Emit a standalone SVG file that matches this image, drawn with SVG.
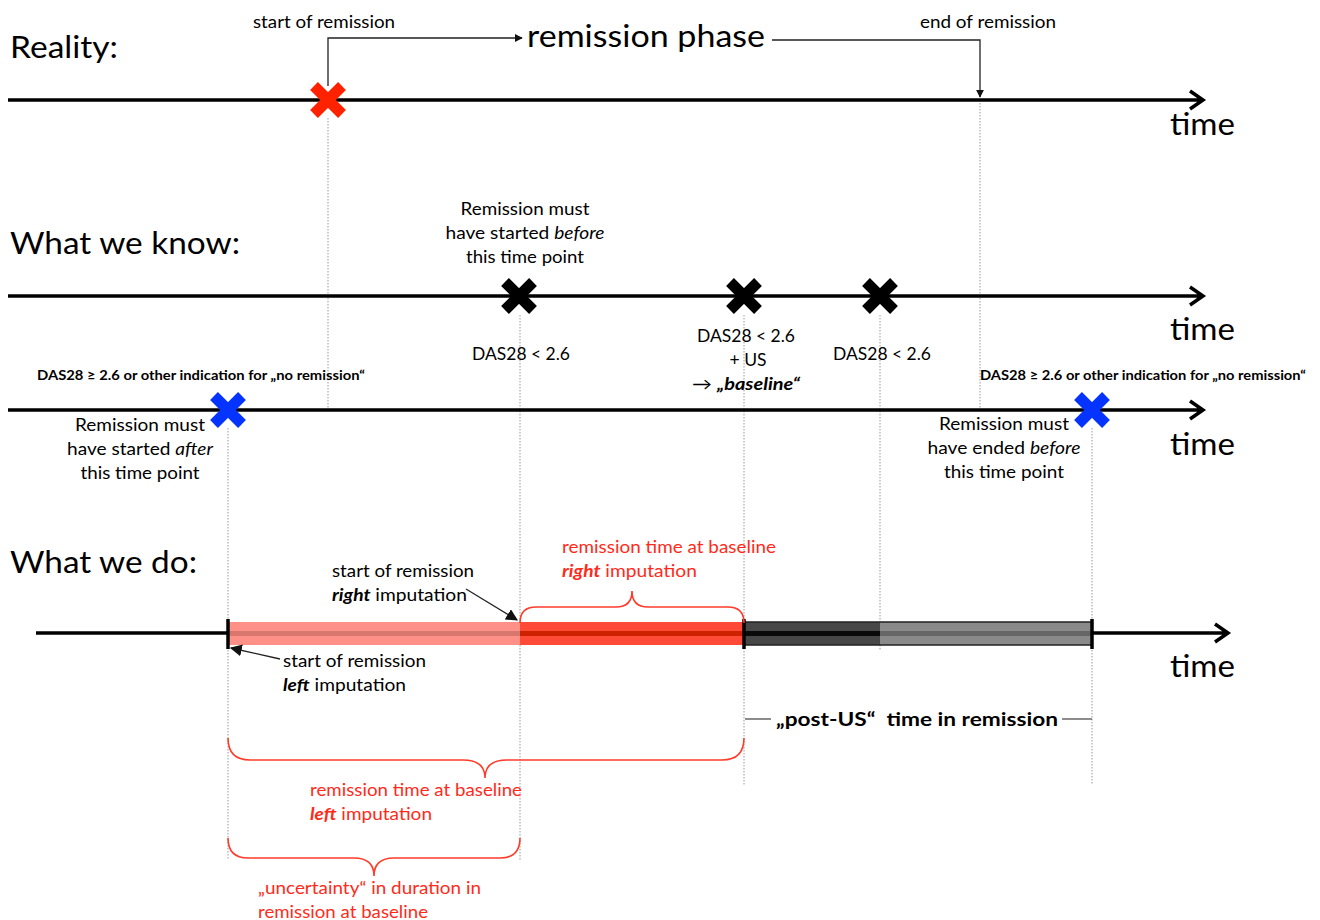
<svg xmlns="http://www.w3.org/2000/svg" width="1320" height="920" viewBox="0 0 1320 920">
<style>
.t{font-family:Lato,"Open Sans","Liberation Sans",sans-serif;fill:#000}
.big{font-size:31px}
.med{font-size:17px}
.sm{font-size:13px;font-weight:bold}
.red{fill:#ff2a1a}
.bi{font-weight:bold;font-style:italic}
.it{font-style:italic}
.tl{stroke:#000;stroke-width:3.5;fill:none}
.thin{stroke:#222;stroke-width:1.3;fill:none}
.dot{stroke:#9a9a9a;stroke-width:1;stroke-dasharray:1.5 1.5;fill:none}
.br{stroke:#ff3b2a;stroke-width:1.6;fill:none}
.tick{stroke:#000;stroke-width:3.5}
</style>
<defs>
<path id="xmark" d="M-14,-14 L14,14 M14,-14 L-14,14" stroke-width="11" fill="none"/>
<marker id="ah" viewBox="0 0 10 10" refX="9" refY="5" markerWidth="8" markerHeight="8" orient="auto" markerUnits="userSpaceOnUse">
<path d="M0,0 L10,5 L0,10 z" fill="#111"/>
</marker>
<marker id="ah2" viewBox="0 0 10 10" refX="9" refY="5" markerWidth="12" markerHeight="12" orient="auto" markerUnits="userSpaceOnUse">
<path d="M0,0 L10,5 L0,10 z" fill="#111"/>
</marker>
</defs>

<g id="guides">
<line class="dot" x1="328" y1="118" x2="328" y2="410"/>
<line class="dot" x1="980" y1="100" x2="980" y2="410"/>
<line class="dot" x1="520" y1="315" x2="520" y2="860"/>
<line class="dot" x1="744" y1="315" x2="744" y2="785"/>
<line class="dot" x1="880" y1="315" x2="880" y2="650"/>
<line class="dot" x1="228" y1="428" x2="228" y2="860"/>
<line class="dot" x1="1092" y1="428" x2="1092" y2="785"/>
</g>

<g id="timelines">
<path class="tl" d="M8,100 H1203 M1190,91 L1203,100 L1190,109"/>
<path class="tl" d="M8,296 H1203 M1190,287 L1203,296 L1190,305"/>
<path class="tl" d="M8,410 H1203 M1190,401 L1203,410 L1190,419"/>
<path class="tl" d="M36,633 H1228 M1215,624 L1228,633 L1215,642"/>
</g>

<g id="bar">
<rect x="228" y="622" width="292" height="23" fill="#ff9088"/>
<rect x="228" y="631" width="292" height="5" fill="#d8776d"/>
<rect x="520" y="622" width="224" height="23" fill="#ff4a38"/>
<rect x="520" y="631" width="224" height="5" fill="#cc2200"/>
<rect x="744" y="622" width="136" height="23" fill="#474747"/>
<rect x="744" y="631" width="136" height="5" fill="#0a0a0a"/>
<rect x="880" y="622" width="212" height="23" fill="#8a8a8a"/>
<rect x="880" y="631" width="212" height="5" fill="#666"/>
<rect x="744" y="622" width="348" height="23" fill="none" stroke="#222" stroke-width="1.5"/>
<line class="tick" x1="228" y1="619" x2="228" y2="649"/>
<line class="tick" x1="744" y1="619" x2="744" y2="649"/>
<line class="tick" x1="1092" y1="619" x2="1092" y2="649"/>
</g>

<g id="connectors">
<path class="thin" d="M328,86 V38 H522" marker-end="url(#ah)"/>
<path class="thin" d="M772,40 H980 V97" marker-end="url(#ah)"/>
<line class="thin" x1="466" y1="589" x2="517" y2="620" marker-end="url(#ah2)"/>
<line class="thin" x1="280" y1="659" x2="231" y2="648" marker-end="url(#ah2)"/>
<line stroke="#666" stroke-width="1.5" x1="745" y1="719" x2="771" y2="719"/>
<line stroke="#666" stroke-width="1.5" x1="1062" y1="719" x2="1092" y2="719"/>
<path class="br" d="M520,623 Q520,607 536,607 L616,607 Q632,607 632,591 Q632,607 648,607 L728,607 Q744,607 744,623"/>
<path class="br" d="M228,738 Q228,760 250,760 L463,760 Q485,760 485,778 Q485,760 507,760 L722,760 Q744,760 744,738"/>
<path class="br" d="M228,838 Q228,858 248,858 L354,858 Q374,858 374,876 Q374,858 394,858 L500,858 Q520,858 520,838"/>
</g>

<g id="marks">
<use href="#xmark" x="328" y="100" stroke="#ff2200"/>
<use href="#xmark" x="519" y="296" stroke="#000"/>
<use href="#xmark" x="744" y="296" stroke="#000"/>
<use href="#xmark" x="880" y="296" stroke="#000"/>
<use href="#xmark" x="228" y="410" stroke="#0533ff"/>
<use href="#xmark" x="1092" y="410" stroke="#0533ff"/>
</g>

<g id="headings">
<text class="t big" x="10" y="58" textLength="108" lengthAdjust="spacingAndGlyphs">Reality:</text>
<text class="t big" x="10" y="254" textLength="230" lengthAdjust="spacingAndGlyphs">What we know:</text>
<text class="t big" x="10" y="573" textLength="187" lengthAdjust="spacingAndGlyphs">What we do:</text>
<text class="t big" x="1170" y="135" textLength="65" lengthAdjust="spacingAndGlyphs">time</text>
<text class="t big" x="1170" y="340" textLength="65" lengthAdjust="spacingAndGlyphs">time</text>
<text class="t big" x="1170" y="455" textLength="65" lengthAdjust="spacingAndGlyphs">time</text>
<text class="t big" x="1170" y="677" textLength="65" lengthAdjust="spacingAndGlyphs">time</text>
</g>

<g id="reality-labels">
<text class="t med" x="253" y="28" textLength="142" lengthAdjust="spacingAndGlyphs">start of remission</text>
<text class="t big" x="527" y="47" textLength="238" lengthAdjust="spacingAndGlyphs">remission phase</text>
<text class="t med" x="920" y="28" textLength="136" lengthAdjust="spacingAndGlyphs">end of remission</text>
</g>

<g id="know-labels">
<text class="t med" x="525" y="215" text-anchor="middle" textLength="129" lengthAdjust="spacingAndGlyphs">Remission must</text>
<text class="t med" x="525" y="239" text-anchor="middle" textLength="159" lengthAdjust="spacingAndGlyphs">have started <tspan class="it">before</tspan></text>
<text class="t med" x="525" y="263" text-anchor="middle" textLength="118" lengthAdjust="spacingAndGlyphs">this time point</text>
<text class="t med" x="521" y="360" text-anchor="middle" textLength="98" lengthAdjust="spacingAndGlyphs">DAS28 &lt; 2.6</text>
<text class="t med" x="746" y="342" text-anchor="middle" textLength="98" lengthAdjust="spacingAndGlyphs">DAS28 &lt; 2.6</text>
<text class="t med" x="748" y="366" text-anchor="middle" textLength="37" lengthAdjust="spacingAndGlyphs">+ US</text>
<text class="t med" x="746" y="390" text-anchor="middle" textLength="108" lengthAdjust="spacingAndGlyphs">→ <tspan class="bi">„baseline“</tspan></text>
<text class="t med" x="882" y="360" text-anchor="middle" textLength="98" lengthAdjust="spacingAndGlyphs">DAS28 &lt; 2.6</text>
</g>

<g id="bounds-labels">
<text class="t sm" x="37" y="380" textLength="328" lengthAdjust="spacingAndGlyphs">DAS28 ≥ 2.6 or other indication for „no remission“</text>
<text class="t sm" x="980" y="380" textLength="326" lengthAdjust="spacingAndGlyphs">DAS28 ≥ 2.6 or other indication for „no remission“</text>
<text class="t med" x="140" y="431" text-anchor="middle" textLength="130" lengthAdjust="spacingAndGlyphs">Remission must</text>
<text class="t med" x="140" y="455" text-anchor="middle" textLength="146" lengthAdjust="spacingAndGlyphs">have started <tspan class="it">after</tspan></text>
<text class="t med" x="140" y="479" text-anchor="middle" textLength="119" lengthAdjust="spacingAndGlyphs">this time point</text>
<text class="t med" x="1004" y="430" text-anchor="middle" textLength="130" lengthAdjust="spacingAndGlyphs">Remission must</text>
<text class="t med" x="1004" y="454" text-anchor="middle" textLength="153" lengthAdjust="spacingAndGlyphs">have ended <tspan class="it">before</tspan></text>
<text class="t med" x="1004" y="478" text-anchor="middle" textLength="120" lengthAdjust="spacingAndGlyphs">this time point</text>
</g>

<g id="do-labels">
<text class="t med" x="332" y="577" textLength="142" lengthAdjust="spacingAndGlyphs">start of remission</text>
<text class="t med" x="332" y="601" textLength="135" lengthAdjust="spacingAndGlyphs"><tspan class="bi">right</tspan> imputation</text>
<text class="t med red" x="562" y="553" textLength="214" lengthAdjust="spacingAndGlyphs">remission time at baseline</text>
<text class="t med red" x="562" y="577" textLength="135" lengthAdjust="spacingAndGlyphs"><tspan class="bi">right</tspan> imputation</text>
<text class="t med" x="283" y="667" textLength="143" lengthAdjust="spacingAndGlyphs">start of remission</text>
<text class="t med" x="283" y="691" textLength="123" lengthAdjust="spacingAndGlyphs"><tspan class="bi">left</tspan> imputation</text>
<text class="t" x="776" y="726" font-size="19" font-weight="bold" textLength="282" lengthAdjust="spacingAndGlyphs">„post-US“&#160; time in remission</text>
<text class="t med red" x="310" y="796" textLength="212" lengthAdjust="spacingAndGlyphs">remission time at baseline</text>
<text class="t med red" x="310" y="820" textLength="122" lengthAdjust="spacingAndGlyphs"><tspan class="bi">left</tspan> imputation</text>
<text class="t med red" x="258" y="894" textLength="223" lengthAdjust="spacingAndGlyphs">„uncertainty“ in duration in</text>
<text class="t med red" x="258" y="918" textLength="170" lengthAdjust="spacingAndGlyphs">remission at baseline</text>
</g>
</svg>
